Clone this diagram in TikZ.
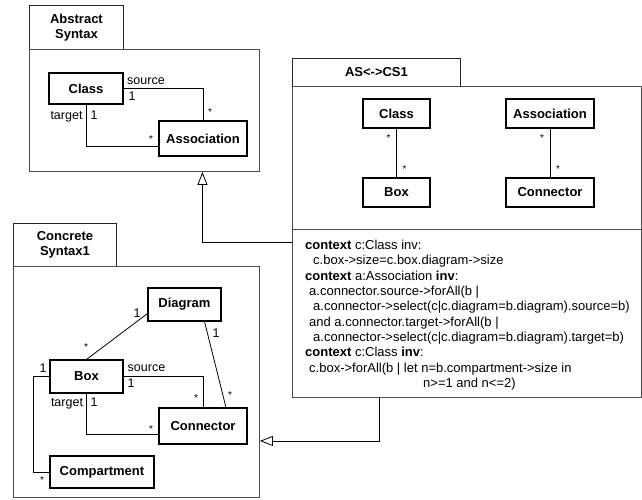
\documentclass[tikz,border=0pt]{standalone}
\usepackage{fontspec}
\setmainfont{Liberation Sans}
\usetikzlibrary{arrows.meta,calc,shadows}
\begin{document}
\begin{tikzpicture}[x=1pt,y=-1pt,
  pkg/.style={draw=black!70, line width=0.9pt, inner sep=0pt, anchor=north west},
  pkgtab/.style={pkg, draw=black!85, align=center, font=\fontsize{13}{15}\selectfont\bfseries},
  cls/.style={draw=black, line width=1.1pt, fill=white, inner sep=0pt, font=\fontsize{13}{15}\selectfont\bfseries,
    drop shadow={shadow xshift=1pt, shadow yshift=-1pt, fill=black, opacity=1}},
  assoc/.style={draw=black, line width=0.8pt},
  lbl/.style={font=\fontsize{12.5}{14}\selectfont, inner sep=0pt, text height=9pt, text depth=0pt},
  star/.style={font=\fontsize{10}{12}\selectfont, inner sep=0pt},
  ocl/.style={font=\fontsize{13}{15}\selectfont, anchor=west, inner sep=0pt, text height=9.3pt, text depth=0pt},
  gen/.style={draw=black, line width=0.8pt, -{Triangle[open, width=10pt, length=13pt, fill=white]}},
]
\useasboundingbox (0,0) rectangle (642,499);

% ---------- Abstract Syntax ----------
\node[pkgtab, minimum width=94pt, minimum height=44pt] (astab) at (29,5) {Abstract\\Syntax};
\node[pkg, minimum width=230pt, minimum height=122pt] (asbody) at (29,49) {};
\node[cls, minimum width=74pt, minimum height=31pt] (ascls) at (86,88.5) {Class};
\node[cls, minimum width=88pt, minimum height=35pt] (asassoc) at (203,138.5) {Association};
\draw[assoc] (ascls.east) -| (asassoc.north);
\draw[assoc] (ascls.south) |- ([yshift=-8pt]asassoc.west);
\node[lbl] (l1) at (146,80) {source};
\node[lbl] (l2) at (132,96) {1};
\node[star] (l3) at (210,112) {*};
\node[lbl] (l4) at (66.5,115) {target};
\node[lbl] (l5) at (94,115) {1};
\node[star] (l6) at (151,139) {*};

% ---------- Concrete Syntax1 ----------
\node[pkgtab, minimum width=103pt, minimum height=43pt] (cstab) at (13,223) {Concrete\\Syntax1};
\node[pkg, minimum width=246pt, minimum height=231pt] (csbody) at (13,266) {};
\node[cls, minimum width=73pt, minimum height=33pt] (diag) at (184.5,304.5) {Diagram};
\node[cls, minimum width=73pt, minimum height=33pt] (box) at (86.5,376.5) {Box};
\node[cls, minimum width=88pt, minimum height=36pt] (conn) at (203,426) {Connector};
\node[cls, minimum width=104pt, minimum height=32pt] (comp) at (102,472) {Compartment};
\draw[assoc] ([yshift=8pt]diag.south west) -- (box.north);
\draw[assoc] ([xshift=20pt]diag.south) -- ([xshift=23pt]conn.north);
\draw[assoc] (box.east) -| (conn.north);
\draw[assoc] (box.south) |- ([yshift=-8pt]conn.west);
\draw[assoc] (box.west) -- ++(-16,0) |- (comp.west);
\node[lbl] (c1) at (137,313) {1};
\node[star] (c2) at (86,347) {*};
\node[lbl] (c3) at (216,333) {1};
\node[star] (c4) at (230,395) {*};
\node[lbl] (c5) at (146.5,367) {source};
\node[lbl] (c6) at (131,383) {1};
\node[star] (c7) at (196,398) {*};
\node[lbl] (c8) at (67,402) {target};
\node[lbl] (c9) at (94,402) {1};
\node[star] (c10) at (151,429) {*};
\node[lbl] (c11) at (43,368) {1};
\node[star] (c12) at (42,480) {*};

% ---------- AS<->CS1 ----------
\node[pkgtab, minimum width=168pt, minimum height=28pt] (mtab) at (292,58) {AS<->CS1};
\node[pkg, minimum width=349pt, minimum height=311pt] (mbody) at (292,86) {};
\draw[pkg] ([yshift=-143pt]mbody.north west) -- ([yshift=-143pt]mbody.north east);
\node[cls, minimum width=67pt, minimum height=29pt] (mcls) at (396.5,113.5) {Class};
\node[cls, minimum width=67pt, minimum height=29pt] (mbox) at (396.5,192.5) {Box};
\node[cls, minimum width=88pt, minimum height=29pt] (massoc) at (550,113.5) {Association};
\node[cls, minimum width=88pt, minimum height=29pt] (mconn) at (550,192.5) {Connector};
\draw[assoc] (mcls.south) -- (mbox.north);
\draw[assoc] (massoc.south) -- (mconn.north);
\node[star] (m1) at (388.5,138) {*};
\node[star] (m2) at (404.5,169) {*};
\node[star] (m3) at (542,138) {*};
\node[star] (m4) at (558,169) {*};

\node[ocl] (o1) at (305,245) {\textbf{context} c:Class inv:};
\node[ocl] (o2) at (313,260.3) {c.box->size=c.box.diagram->size};
\node[ocl] (o3) at (305,275.6) {\textbf{context} a:Association \textbf{inv}:};
\node[ocl] (o4) at (309,290.9) {a.connector.source->forAll(b |};
\node[ocl] (o5) at (313,306.2) {a.connector->select(c|c.diagram=b.diagram).source=b)};
\node[ocl] (o6) at (309,321.5) {and a.connector.target->forAll(b |};
\node[ocl] (o7) at (313,336.8) {a.connector->select(c|c.diagram=b.diagram).target=b)};
\node[ocl] (o8) at (305,352.1) {\textbf{context} c:Class \textbf{inv}:};
\node[ocl] (o9) at (309,367.4) {c.box->forAll(b | let n=b.compartment->size in};
\node[ocl] (o10) at (423,382.7) {n>=1 and n<=2)};

% ---------- generalizations ----------
\draw[gen] (mbody.west) -| ([xshift=58pt]asbody.south);
\draw[gen] ([xshift=-87.5pt]mbody.south) |- ([yshift=-59pt]csbody.east);
\end{tikzpicture}
\end{document}
